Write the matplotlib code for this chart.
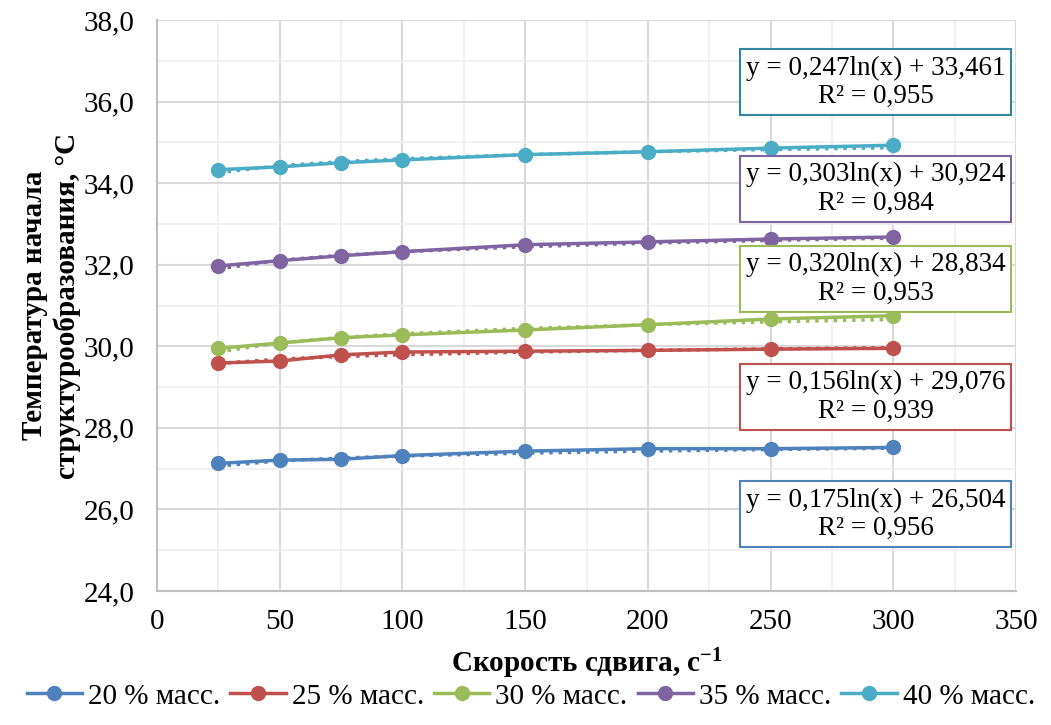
import matplotlib.pyplot as plt
import numpy as np
from matplotlib.ticker import MultipleLocator, FuncFormatter

plt.rcParams['font.family'] = ['Liberation Serif', 'DejaVu Serif']
plt.rcParams['mathtext.fontset'] = 'custom'
plt.rcParams['mathtext.rm'] = 'Liberation Serif'
plt.rcParams['mathtext.bf'] = 'Liberation Serif:bold'

shear = [25, 50, 75, 100, 150, 200, 250, 300]
labels = ['20 % масс.', '25 % масс.', '30 % масс.', '35 % масс.', '40 % масс.']
t20 = [27.13, 27.21, 27.23, 27.32, 27.43, 27.49, 27.49, 27.52]
t25 = [29.59, 29.64, 29.79, 29.86, 29.88, 29.90, 29.93, 29.95]
t30 = [29.95, 30.08, 30.21, 30.28, 30.40, 30.53, 30.67, 30.75]
t35 = [31.97, 32.10, 32.22, 32.32, 32.49, 32.56, 32.63, 32.68]
t40 = [34.33, 34.40, 34.50, 34.57, 34.70, 34.77, 34.86, 34.93]
series = [t20, t25, t30, t35, t40]

# trend line coefficients y = a*ln(x) + b
coef_a = [0.175, 0.156, 0.320, 0.303, 0.247]
coef_b = [26.504, 29.076, 28.834, 30.924, 33.461]
r2 = ['0,956', '0,939', '0,953', '0,984', '0,955']

colors = ['#4F81BD', '#C0504D', '#9BBB59', '#8064A2', '#4BACC6']
edge_colors = ['#4F81BD', '#C0504D', '#9BBB59', '#8064A2', '#31859C']
box_y = [25.88, 28.75, 31.66, 33.86, 36.47]

fig = plt.figure(figsize=(10.51, 7.25), dpi=100)
ax = fig.add_axes([0.1494, 0.1848, 0.8173, 0.7876])

xs = np.array(shear, dtype=float)
for i in range(5):
    fit = coef_a[i] * np.log(xs) + coef_b[i]
    ax.plot(xs, fit, ':', color=colors[i], lw=2.5, zorder=2)
    ax.plot(shear, series[i], '-o', color=colors[i], lw=2.5, ms=10,
            label=labels[i], zorder=3)
    txt = 'y = %sln(x) + %s\nR² = %s' % (
        ('%.3f' % coef_a[i]).replace('.', ','),
        ('%.3f' % coef_b[i]).replace('.', ','), r2[i])
    ax.text(292.8, box_y[i], txt, ha='center', va='center', fontsize=19.5,
            linespacing=1.2, zorder=5,
            bbox=dict(boxstyle='square,pad=0.22', fc='white',
                      ec=edge_colors[i], lw=1.5))

ax.set_xlim(0, 350)
ax.set_ylim(24, 38)
ax.xaxis.set_major_locator(MultipleLocator(50))
ax.xaxis.set_minor_locator(MultipleLocator(25))
ax.yaxis.set_major_locator(MultipleLocator(2))
ax.yaxis.set_minor_locator(MultipleLocator(1))
ax.yaxis.set_major_formatter(FuncFormatter(lambda v, p: ('%.1f' % v).replace('.', ',')))
ax.grid(which='major', color='#d9d9d9', lw=1.5, zorder=0)
ax.grid(which='minor', color='#efefef', lw=1.2, zorder=0)
ax.set_axisbelow(True)
for s in ['top', 'right']:
    ax.spines[s].set_visible(False)
ax.spines['left'].set_color('#bfbfbf')
ax.spines['bottom'].set_color('#bfbfbf')
ax.spines['left'].set_linewidth(1.5)
ax.spines['bottom'].set_linewidth(1.5)
ax.tick_params(which='both', length=0, labelsize=21)
ax.tick_params(axis='x', pad=13)
ax.tick_params(axis='y', pad=16)

ax.set_xlabel(r'Скорость сдвига, с$\mathbf{^{-1}}$', fontsize=21, fontweight='bold', labelpad=8)
ax.set_ylabel('Температура начала\nструктурообразования, °С', fontsize=21,
              fontweight='bold', labelpad=2, linespacing=1.25)

fig.legend(loc='lower center', ncol=5, bbox_to_anchor=(0.505, -0.015), frameon=False,
           fontsize=21, handlelength=1.9, handletextpad=0.2, columnspacing=0.35)

fig.savefig('out.png', dpi=100)
